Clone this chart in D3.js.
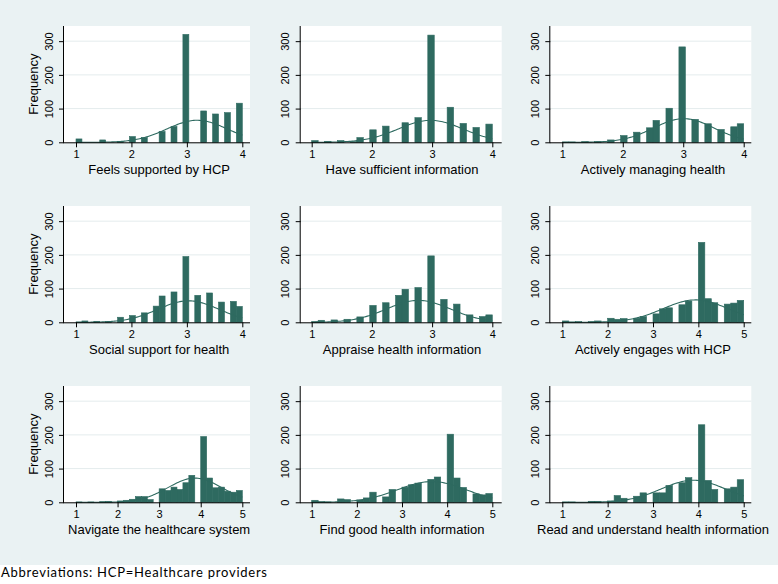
<!DOCTYPE html>
<html lang="en">
<head>
    <meta charset="utf-8">
    <title>Histograms</title>
    <style>
        body { margin: 0; background: #fff; }
        text { font-family: "Liberation Sans", Arial, sans-serif; fill: #000; }
    </style>
</head>
<body>
    <svg id="chart" width="778" height="584"></svg>
    <script src="https://cdn.jsdelivr.net/npm/d3@7"></script>
    <script>
        // panel titles, in reading order
        const titles = [
            "Feels supported by HCP", "Have sufficient information", "Actively managing health",
            "Social support for health", "Appraise health information", "Actively engages with HCP",
            "Navigate the healthcare system", "Find good health information", "Read and understand health information"
        ];
        // upper end of each scale (all start at 1)
        const scaleMax = [4, 4, 4, 4, 4, 5, 5, 5, 5];
        const binCount = 28;

        // frequency per bin (28 bins from 1 to scale max)
        const feelsSupported   = [10,0,0,0,7,0,0,3,0,17,0,14,0,0,32,0,47,0,320,0,0,93,0,84,0,88,0,116];
        const sufficientInfo   = [5,0,3,0,5,0,2,14,0,37,0,48,0,0,58,0,73,0,318,0,0,104,0,56,0,44,0,54];
        const activelyManaging = [1,1,0,2,0,2,0,7,0,20,0,30,0,43,65,0,101,0,283,0,68,0,55,0,38,0,46,55];
        const socialSupport    = [1,4,0,3,0,2,0,15,0,20,0,28,0,48,78,0,90,0,195,0,80,0,87,0,60,0,62,47];
        const appraiseInfo     = [2,6,0,7,0,9,0,16,0,50,0,58,0,80,98,0,103,0,197,0,68,0,54,0,22,0,17,22];
        const engagesHcp       = [4,1,2,0,2,4,0,12,9,11,0,12,17,0,25,40,43,0,52,63,0,237,70,58,0,54,57,65];
        const navigateSystem   = [1,0,1,0,2,3,0,4,6,9,17,17,8,0,40,35,45,38,58,80,0,195,72,43,45,33,30,35];
        const findInfo         = [6,2,1,0,10,8,0,7,13,30,0,16,38,0,45,52,57,0,68,75,0,202,72,44,0,25,22,26];
        const readUnderstand   = [1,1,0,0,3,3,0,4,20,12,0,18,28,0,28,28,50,0,58,73,0,230,65,38,0,40,45,67];

        const panelCounts = [feelsSupported, sufficientInfo, activelyManaging, socialSupport,
            appraiseInfo, engagesHcp, navigateSystem, findInfo, readUnderstand];

        const yTicks = [0, 100, 200, 300];
        const yMax = 345;
        const footnote = "Abbreviations: HCP=Healthcare providers";

        const barColor = "#2e6a60";
        const bgColor = "#eaf2f3";

        // layout of the 3x3 grid
        const rowTop = [26, 206, 386];
        const plotH = 116.3;
        const colLeft = [64, 300.7, 550.3];
        const colRight = [250, 501.7, 751.3];
        const colX0 = [76, 311.7, 562.3];
        const colX1 = [242.3, 492.3, 743.7];

        const svg = d3.select("#chart");

        svg.append("rect")
            .attr("width", 778).attr("height", 565)
            .attr("fill", bgColor);

        panelCounts.forEach(function(counts, p) {
            const row = Math.floor(p / 3), col = p % 3;
            const top = rowTop[row], bottom = top + plotH;
            const left = colLeft[col], right = colRight[col];
            const lo = 1, hi = scaleMax[p];
            const w = (hi - lo) / binCount;

            const x = d3.scaleLinear().domain([lo, hi]).range([colX0[col], colX1[col]]);
            const y = d3.scaleLinear().domain([0, yMax]).range([bottom, top]);

            const g = svg.append("g");

            // plot region
            g.append("rect")
                .attr("x", left).attr("y", top)
                .attr("width", right - left).attr("height", plotH)
                .attr("fill", "#fff");

            g.append("g")
                .selectAll("line")
                .data(yTicks.filter(d => d > 0))
                .join("line")
                    .attr("x1", left).attr("x2", right)
                    .attr("y1", d => y(d)).attr("y2", d => y(d))
                    .attr("stroke", "#e4eced")
                    .attr("stroke-width", 1);

            // bars
            const bins = counts.map((c, i) => ({x0: lo + i * w, x1: lo + (i + 1) * w, n: c}));
            g.append("g")
                .selectAll("rect")
                .data(bins.filter(d => d.n > 0))
                .join("rect")
                    .attr("x", d => x(d.x0))
                    .attr("width", d => x(d.x1) - x(d.x0))
                    .attr("y", d => y(d.n))
                    .attr("height", d => y(0) - y(d.n))
                    .attr("fill", barColor)
                    .attr("stroke", barColor)
                    .attr("stroke-width", 0.6);

            // normal density with the histogram's mean and sd
            const total = d3.sum(bins, d => d.n);
            const mean = d3.sum(bins, d => d.n * (d.x0 + d.x1) / 2) / total;
            const sd = Math.sqrt(d3.sum(bins, d => d.n * Math.pow((d.x0 + d.x1) / 2 - mean, 2)) / total);
            const pts = d3.range(0, 121).map(k => {
                const v = lo + (hi - lo) * k / 120;
                const z = (v - mean) / sd;
                return [v, total * w * Math.exp(-z * z / 2) / (sd * Math.sqrt(2 * Math.PI))];
            });
            g.append("path")
                .attr("d", d3.line().x(d => x(d[0])).y(d => y(d[1]))(pts))
                .attr("fill", "none")
                .attr("stroke", barColor)
                .attr("stroke-width", 1.1);

            // x axis
            const xAxis = d3.axisBottom(x)
                .tickValues(d3.range(lo, hi + 1))
                .tickFormat(d3.format("d"))
                .tickSize(5)
                .tickPadding(3);
            const xg = g.append("g")
                .attr("transform", `translate(0,${bottom})`)
                .call(xAxis);
            xg.select(".domain").attr("d", `M${left - 0.5},0.5H${right}`);
            xg.selectAll("text").attr("font-size", 11).attr("font-family", null);

            // y axis
            const yAxis = d3.axisLeft(y)
                .tickValues(yTicks)
                .tickSize(5)
                .tickPadding(2);
            const yg = g.append("g")
                .attr("transform", `translate(${left},0)`)
                .call(yAxis);
            yg.select(".domain").attr("d", `M-0.5,${top}V${bottom + 0.5}`);
            yg.selectAll(".tick text")
                .attr("font-size", 11).attr("font-family", null)
                .attr("x", null).attr("dy", null)
                .attr("transform", "translate(-11.5,0) rotate(-90)")
                .attr("text-anchor", "middle");

            g.append("text")
                .attr("x", (colX0[col] + colX1[col]) / 2)
                .attr("y", bottom + 31.5)
                .attr("text-anchor", "middle")
                .attr("font-size", 13)
                .text(titles[p]);

            if (col === 0) {
                g.append("text")
                    .attr("transform", `translate(37.5,${(top + bottom) / 2}) rotate(-90)`)
                    .attr("text-anchor", "middle")
                    .attr("font-size", 13)
                    .text("Frequency");
            }
        });

        svg.append("text")
            .attr("x", 1)
            .attr("y", 577)
            .attr("font-size", 13)
            .attr("textLength", 266)
            .style("font-family", "Lato, 'Open Sans', sans-serif")
            .text(footnote);
    </script>
</body>
</html>
